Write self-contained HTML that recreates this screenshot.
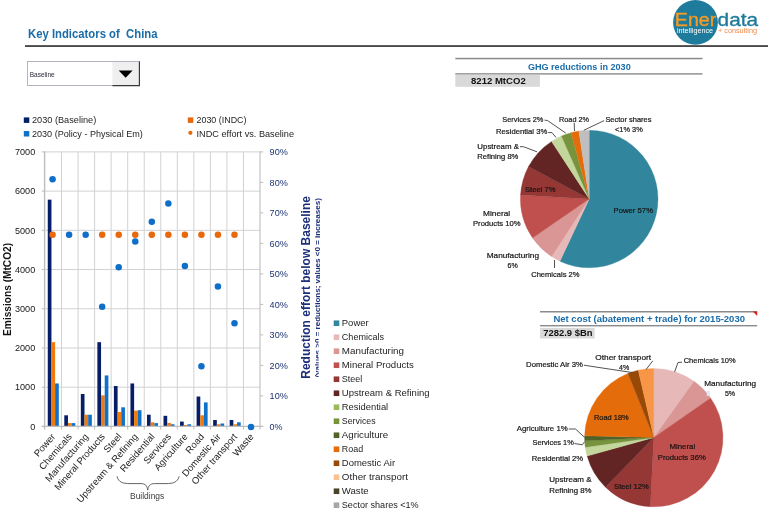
<!DOCTYPE html>
<html><head><meta charset="utf-8"><title>Key Indicators of China</title>
<style>html,body{margin:0;padding:0;background:#fff;overflow:hidden}svg{display:block;will-change:transform}text{font-family:"Liberation Sans",sans-serif}</style></head>
<body>
<svg width="768" height="512" viewBox="0 0 768 512" font-family="Liberation Sans, sans-serif">
<rect width="768" height="512" fill="#fff"/>
<text font-size="12" fill="#1b6ca8" font-weight="bold" textLength="129.50" lengthAdjust="spacingAndGlyphs" x="28.00" y="38.30" xml:space="preserve">Key Indicators of  China</text>
<rect x="25" y="45.3" width="743" height="1.5" fill="#1c1c1c"/>
<circle cx="695.5" cy="22.4" r="22.4" fill="#1f7b9b"/>
<text font-size="18.2" fill="#f59a23" textLength="41.50" lengthAdjust="spacingAndGlyphs" x="674.80" y="26.30" stroke="#f59a23" stroke-width="0.35">Ener</text>
<text font-size="18.2" fill="#1f7b9b" textLength="40.50" lengthAdjust="spacingAndGlyphs" x="717.60" y="26.30" stroke="#1f7b9b" stroke-width="0.35">data</text>
<text font-size="6.6" fill="#ffffff" textLength="36.00" lengthAdjust="spacingAndGlyphs" x="677.00" y="33.00" >intelligence</text>
<text font-size="6.6" fill="#f08a4b" textLength="39.00" lengthAdjust="spacingAndGlyphs" x="718.00" y="33.00" >+ consulting</text>
<rect x="27.5" y="61.5" width="112" height="24" fill="#fff" stroke="#b4b4c2" stroke-width="1"/>
<rect x="112.4" y="62" width="26.4" height="23.2" fill="#efefef"/>
<path d="M112.4 85.6 H139.4 V61.5" fill="none" stroke="#3a3a3a" stroke-width="1.2"/>
<path d="M118.7 70.6 H132.6 L125.65 77.8 Z" fill="#000"/>
<text font-size="6.6" fill="#2a2438" textLength="25.00" lengthAdjust="spacingAndGlyphs" x="29.70" y="76.50" >Baseline</text>
<line x1="45.0" y1="387.19" x2="260.0" y2="387.19" stroke="#d2d2d2" stroke-width="1"/>
<line x1="45.0" y1="347.97" x2="260.0" y2="347.97" stroke="#d2d2d2" stroke-width="1"/>
<line x1="45.0" y1="308.76" x2="260.0" y2="308.76" stroke="#d2d2d2" stroke-width="1"/>
<line x1="45.0" y1="269.54" x2="260.0" y2="269.54" stroke="#d2d2d2" stroke-width="1"/>
<line x1="45.0" y1="230.33" x2="260.0" y2="230.33" stroke="#d2d2d2" stroke-width="1"/>
<line x1="45.0" y1="191.11" x2="260.0" y2="191.11" stroke="#d2d2d2" stroke-width="1"/>
<line x1="45.0" y1="151.90" x2="260.0" y2="151.90" stroke="#d2d2d2" stroke-width="1"/>
<line x1="61.54" y1="151.90" x2="61.54" y2="426.40" stroke="#d2d2d2" stroke-width="1"/>
<line x1="78.08" y1="151.90" x2="78.08" y2="426.40" stroke="#d2d2d2" stroke-width="1"/>
<line x1="94.62" y1="151.90" x2="94.62" y2="426.40" stroke="#d2d2d2" stroke-width="1"/>
<line x1="111.15" y1="151.90" x2="111.15" y2="426.40" stroke="#d2d2d2" stroke-width="1"/>
<line x1="127.69" y1="151.90" x2="127.69" y2="426.40" stroke="#d2d2d2" stroke-width="1"/>
<line x1="144.23" y1="151.90" x2="144.23" y2="426.40" stroke="#d2d2d2" stroke-width="1"/>
<line x1="160.77" y1="151.90" x2="160.77" y2="426.40" stroke="#d2d2d2" stroke-width="1"/>
<line x1="177.31" y1="151.90" x2="177.31" y2="426.40" stroke="#d2d2d2" stroke-width="1"/>
<line x1="193.85" y1="151.90" x2="193.85" y2="426.40" stroke="#d2d2d2" stroke-width="1"/>
<line x1="210.38" y1="151.90" x2="210.38" y2="426.40" stroke="#d2d2d2" stroke-width="1"/>
<line x1="226.92" y1="151.90" x2="226.92" y2="426.40" stroke="#d2d2d2" stroke-width="1"/>
<line x1="243.46" y1="151.90" x2="243.46" y2="426.40" stroke="#d2d2d2" stroke-width="1"/>
<rect x="47.76" y="199.66" width="3.68" height="226.74" fill="#061e68"/>
<rect x="51.43" y="342.17" width="3.68" height="84.23" fill="#f07a0a"/>
<rect x="55.11" y="383.46" width="3.68" height="42.94" fill="#1071c9"/>
<rect x="64.29" y="415.30" width="3.68" height="11.10" fill="#061e68"/>
<rect x="67.97" y="423.11" width="3.68" height="3.29" fill="#f07a0a"/>
<rect x="71.65" y="423.11" width="3.68" height="3.29" fill="#1071c9"/>
<rect x="80.83" y="394.01" width="3.68" height="32.39" fill="#061e68"/>
<rect x="84.51" y="414.71" width="3.68" height="11.69" fill="#f07a0a"/>
<rect x="88.18" y="414.71" width="3.68" height="11.69" fill="#1071c9"/>
<rect x="97.37" y="342.17" width="3.68" height="84.23" fill="#061e68"/>
<rect x="101.05" y="395.38" width="3.68" height="31.02" fill="#f07a0a"/>
<rect x="104.72" y="375.42" width="3.68" height="50.98" fill="#1071c9"/>
<rect x="113.91" y="386.01" width="3.68" height="40.39" fill="#061e68"/>
<rect x="117.59" y="412.01" width="3.68" height="14.39" fill="#f07a0a"/>
<rect x="121.26" y="407.30" width="3.68" height="19.10" fill="#1071c9"/>
<rect x="130.45" y="383.46" width="3.68" height="42.94" fill="#061e68"/>
<rect x="134.12" y="410.60" width="3.68" height="15.80" fill="#f07a0a"/>
<rect x="137.80" y="410.20" width="3.68" height="16.20" fill="#1071c9"/>
<rect x="146.99" y="414.71" width="3.68" height="11.69" fill="#061e68"/>
<rect x="150.66" y="422.32" width="3.68" height="4.08" fill="#f07a0a"/>
<rect x="154.34" y="423.11" width="3.68" height="3.29" fill="#1071c9"/>
<rect x="163.53" y="415.81" width="3.68" height="10.59" fill="#061e68"/>
<rect x="167.20" y="422.95" width="3.68" height="3.45" fill="#f07a0a"/>
<rect x="170.88" y="424.28" width="3.68" height="2.12" fill="#1071c9"/>
<rect x="180.06" y="421.58" width="3.68" height="4.82" fill="#061e68"/>
<rect x="183.74" y="425.07" width="3.68" height="1.33" fill="#f07a0a"/>
<rect x="187.41" y="424.28" width="3.68" height="2.12" fill="#1071c9"/>
<rect x="196.60" y="396.52" width="3.68" height="29.88" fill="#061e68"/>
<rect x="200.28" y="415.30" width="3.68" height="11.10" fill="#f07a0a"/>
<rect x="203.95" y="402.40" width="3.68" height="24.00" fill="#1071c9"/>
<rect x="213.14" y="420.01" width="3.68" height="6.39" fill="#061e68"/>
<rect x="216.82" y="424.28" width="3.68" height="2.12" fill="#f07a0a"/>
<rect x="220.49" y="423.50" width="3.68" height="2.90" fill="#1071c9"/>
<rect x="229.68" y="420.01" width="3.68" height="6.39" fill="#061e68"/>
<rect x="233.35" y="424.28" width="3.68" height="2.12" fill="#f07a0a"/>
<rect x="237.03" y="422.32" width="3.68" height="4.08" fill="#1071c9"/>
<line x1="44.6" y1="151.40" x2="44.6" y2="429.60" stroke="#bdbdbd" stroke-width="1.4"/>
<line x1="260.0" y1="151.40" x2="260.0" y2="429.60" stroke="#bdbdbd" stroke-width="1.1"/>
<line x1="41.8" y1="426.40" x2="263.2" y2="426.40" stroke="#bdbdbd" stroke-width="1.2"/>
<line x1="41.8" y1="426.40" x2="45.0" y2="426.40" stroke="#bdbdbd" stroke-width="1"/>
<text font-size="9.1" fill="#161616" text-anchor="end" x="35.20" y="429.65" >0</text>
<line x1="41.8" y1="387.19" x2="45.0" y2="387.19" stroke="#bdbdbd" stroke-width="1"/>
<text font-size="9.1" fill="#161616" text-anchor="end" x="35.20" y="390.44" >1000</text>
<line x1="41.8" y1="347.97" x2="45.0" y2="347.97" stroke="#bdbdbd" stroke-width="1"/>
<text font-size="9.1" fill="#161616" text-anchor="end" x="35.20" y="351.22" >2000</text>
<line x1="41.8" y1="308.76" x2="45.0" y2="308.76" stroke="#bdbdbd" stroke-width="1"/>
<text font-size="9.1" fill="#161616" text-anchor="end" x="35.20" y="312.01" >3000</text>
<line x1="41.8" y1="269.54" x2="45.0" y2="269.54" stroke="#bdbdbd" stroke-width="1"/>
<text font-size="9.1" fill="#161616" text-anchor="end" x="35.20" y="272.79" >4000</text>
<line x1="41.8" y1="230.33" x2="45.0" y2="230.33" stroke="#bdbdbd" stroke-width="1"/>
<text font-size="9.1" fill="#161616" text-anchor="end" x="35.20" y="233.58" >5000</text>
<line x1="41.8" y1="191.11" x2="45.0" y2="191.11" stroke="#bdbdbd" stroke-width="1"/>
<text font-size="9.1" fill="#161616" text-anchor="end" x="35.20" y="194.36" >6000</text>
<line x1="41.8" y1="151.90" x2="45.0" y2="151.90" stroke="#bdbdbd" stroke-width="1"/>
<text font-size="9.1" fill="#161616" text-anchor="end" x="35.20" y="155.15" >7000</text>
<line x1="260.0" y1="426.40" x2="263.2" y2="426.40" stroke="#bdbdbd" stroke-width="1"/>
<text font-size="9.1" fill="#1c3475" textLength="13.00" lengthAdjust="spacingAndGlyphs" x="269.60" y="429.65" >0%</text>
<line x1="260.0" y1="395.90" x2="263.2" y2="395.90" stroke="#bdbdbd" stroke-width="1"/>
<text font-size="9.1" fill="#1c3475" textLength="18.20" lengthAdjust="spacingAndGlyphs" x="269.60" y="399.15" >10%</text>
<line x1="260.0" y1="365.40" x2="263.2" y2="365.40" stroke="#bdbdbd" stroke-width="1"/>
<text font-size="9.1" fill="#1c3475" textLength="18.20" lengthAdjust="spacingAndGlyphs" x="269.60" y="368.65" >20%</text>
<line x1="260.0" y1="334.90" x2="263.2" y2="334.90" stroke="#bdbdbd" stroke-width="1"/>
<text font-size="9.1" fill="#1c3475" textLength="18.20" lengthAdjust="spacingAndGlyphs" x="269.60" y="338.15" >30%</text>
<line x1="260.0" y1="304.40" x2="263.2" y2="304.40" stroke="#bdbdbd" stroke-width="1"/>
<text font-size="9.1" fill="#1c3475" textLength="18.20" lengthAdjust="spacingAndGlyphs" x="269.60" y="307.65" >40%</text>
<line x1="260.0" y1="273.90" x2="263.2" y2="273.90" stroke="#bdbdbd" stroke-width="1"/>
<text font-size="9.1" fill="#1c3475" textLength="18.20" lengthAdjust="spacingAndGlyphs" x="269.60" y="277.15" >50%</text>
<line x1="260.0" y1="243.40" x2="263.2" y2="243.40" stroke="#bdbdbd" stroke-width="1"/>
<text font-size="9.1" fill="#1c3475" textLength="18.20" lengthAdjust="spacingAndGlyphs" x="269.60" y="246.65" >60%</text>
<line x1="260.0" y1="212.90" x2="263.2" y2="212.90" stroke="#bdbdbd" stroke-width="1"/>
<text font-size="9.1" fill="#1c3475" textLength="18.20" lengthAdjust="spacingAndGlyphs" x="269.60" y="216.15" >70%</text>
<line x1="260.0" y1="182.40" x2="263.2" y2="182.40" stroke="#bdbdbd" stroke-width="1"/>
<text font-size="9.1" fill="#1c3475" textLength="18.20" lengthAdjust="spacingAndGlyphs" x="269.60" y="185.65" >80%</text>
<line x1="260.0" y1="151.90" x2="263.2" y2="151.90" stroke="#bdbdbd" stroke-width="1"/>
<text font-size="9.1" fill="#1c3475" textLength="18.20" lengthAdjust="spacingAndGlyphs" x="269.60" y="155.15" >90%</text>
<line x1="61.54" y1="426.40" x2="61.54" y2="429.60" stroke="#bdbdbd" stroke-width="1"/>
<line x1="78.08" y1="426.40" x2="78.08" y2="429.60" stroke="#bdbdbd" stroke-width="1"/>
<line x1="94.62" y1="426.40" x2="94.62" y2="429.60" stroke="#bdbdbd" stroke-width="1"/>
<line x1="111.15" y1="426.40" x2="111.15" y2="429.60" stroke="#bdbdbd" stroke-width="1"/>
<line x1="127.69" y1="426.40" x2="127.69" y2="429.60" stroke="#bdbdbd" stroke-width="1"/>
<line x1="144.23" y1="426.40" x2="144.23" y2="429.60" stroke="#bdbdbd" stroke-width="1"/>
<line x1="160.77" y1="426.40" x2="160.77" y2="429.60" stroke="#bdbdbd" stroke-width="1"/>
<line x1="177.31" y1="426.40" x2="177.31" y2="429.60" stroke="#bdbdbd" stroke-width="1"/>
<line x1="193.85" y1="426.40" x2="193.85" y2="429.60" stroke="#bdbdbd" stroke-width="1"/>
<line x1="210.38" y1="426.40" x2="210.38" y2="429.60" stroke="#bdbdbd" stroke-width="1"/>
<line x1="226.92" y1="426.40" x2="226.92" y2="429.60" stroke="#bdbdbd" stroke-width="1"/>
<line x1="243.46" y1="426.40" x2="243.46" y2="429.60" stroke="#bdbdbd" stroke-width="1"/>
<circle cx="52.57" cy="234.85" r="3.25" fill="#e8690b"/>
<circle cx="102.18" cy="234.85" r="3.25" fill="#e8690b"/>
<circle cx="118.72" cy="234.85" r="3.25" fill="#e8690b"/>
<circle cx="135.26" cy="234.85" r="3.25" fill="#e8690b"/>
<circle cx="151.80" cy="234.85" r="3.25" fill="#e8690b"/>
<circle cx="168.34" cy="234.85" r="3.25" fill="#e8690b"/>
<circle cx="184.88" cy="234.85" r="3.25" fill="#e8690b"/>
<circle cx="201.42" cy="234.85" r="3.25" fill="#e8690b"/>
<circle cx="217.95" cy="234.85" r="3.25" fill="#e8690b"/>
<circle cx="234.49" cy="234.85" r="3.25" fill="#e8690b"/>
<circle cx="52.57" cy="179.34" r="3.25" fill="#0f6fc8"/>
<circle cx="69.11" cy="234.85" r="3.25" fill="#0f6fc8"/>
<circle cx="85.65" cy="234.85" r="3.25" fill="#0f6fc8"/>
<circle cx="102.18" cy="306.83" r="3.25" fill="#0f6fc8"/>
<circle cx="118.72" cy="267.18" r="3.25" fill="#0f6fc8"/>
<circle cx="135.26" cy="241.56" r="3.25" fill="#0f6fc8"/>
<circle cx="151.80" cy="221.73" r="3.25" fill="#0f6fc8"/>
<circle cx="168.34" cy="203.43" r="3.25" fill="#0f6fc8"/>
<circle cx="184.88" cy="265.96" r="3.25" fill="#0f6fc8"/>
<circle cx="201.42" cy="366.31" r="3.25" fill="#0f6fc8"/>
<circle cx="217.95" cy="286.39" r="3.25" fill="#0f6fc8"/>
<circle cx="234.49" cy="323.30" r="3.25" fill="#0f6fc8"/>
<circle cx="251.03" cy="427.00" r="3.25" fill="#0f6fc8"/>
<text font-size="9.5" fill="#1e1e1e" text-anchor="end" transform="translate(55.87 437.00) rotate(-49)" >Power</text>
<text font-size="9.5" fill="#1e1e1e" text-anchor="end" transform="translate(72.41 437.00) rotate(-49)" >Chemicals</text>
<text font-size="9.5" fill="#1e1e1e" text-anchor="end" transform="translate(88.95 437.00) rotate(-49)" >Manufacturing</text>
<text font-size="9.5" fill="#1e1e1e" text-anchor="end" transform="translate(105.48 437.00) rotate(-49)" >Mineral Products</text>
<text font-size="9.5" fill="#1e1e1e" text-anchor="end" transform="translate(122.02 437.00) rotate(-49)" >Steel</text>
<text font-size="9.5" fill="#1e1e1e" text-anchor="end" transform="translate(138.56 437.00) rotate(-49)" >Upstream &amp; Refining</text>
<text font-size="9.5" fill="#1e1e1e" text-anchor="end" transform="translate(155.10 437.00) rotate(-49)" >Residential</text>
<text font-size="9.5" fill="#1e1e1e" text-anchor="end" transform="translate(171.64 437.00) rotate(-49)" >Services</text>
<text font-size="9.5" fill="#1e1e1e" text-anchor="end" transform="translate(188.18 437.00) rotate(-49)" >Agriculture</text>
<text font-size="9.5" fill="#1e1e1e" text-anchor="end" transform="translate(204.72 437.00) rotate(-49)" >Road</text>
<text font-size="9.5" fill="#1e1e1e" text-anchor="end" transform="translate(221.25 437.00) rotate(-49)" >Domestic Air</text>
<text font-size="9.5" fill="#1e1e1e" text-anchor="end" transform="translate(237.79 437.00) rotate(-49)" >Other transport</text>
<text font-size="9.5" fill="#1e1e1e" text-anchor="end" transform="translate(254.33 437.00) rotate(-49)" >Waste</text>
<path d="M117 476.3 C118.5 482.5 123 483.6 130 483.6 H141 C145.5 483.6 147.2 486 147.7 490.2 C148.2 486 150 483.6 154.5 483.6 H166 C173 483.6 177.5 482.5 179.2 476.3" fill="none" stroke="#555" stroke-width="0.9"/>
<text font-size="9.1" fill="#3a3a3a" textLength="34.30" lengthAdjust="spacingAndGlyphs" x="130.00" y="499.00" >Buildings</text>
<rect x="23.8" y="117.4" width="5.5" height="5.5" fill="#061e68"/>
<text font-size="9.1" fill="#1e1e1e" textLength="64.20" lengthAdjust="spacingAndGlyphs" x="32.00" y="123.30" >2030 (Baseline)</text>
<rect x="23.8" y="131" width="5.5" height="5.5" fill="#1071c9"/>
<text font-size="9.1" fill="#1e1e1e" textLength="110.80" lengthAdjust="spacingAndGlyphs" x="32.00" y="136.80" >2030 (Policy - Physical Em)</text>
<rect x="187.8" y="117.4" width="5.5" height="5.5" fill="#e8690b"/>
<text font-size="9.1" fill="#1e1e1e" textLength="50.00" lengthAdjust="spacingAndGlyphs" x="196.50" y="123.30" >2030 (INDC)</text>
<circle cx="190.4" cy="132.8" r="2.1" fill="#e8690b"/>
<text font-size="9.1" fill="#1e1e1e" textLength="97.50" lengthAdjust="spacingAndGlyphs" x="196.50" y="136.80" >INDC effort vs. Baseline</text>
<text font-size="10.1" fill="#111" font-weight="bold" text-anchor="middle" textLength="93.00" lengthAdjust="spacingAndGlyphs" transform="translate(11.30 289.40) rotate(-90)" >Emissions (MtCO2)</text>
<text font-size="12" fill="#1b2f78" font-weight="bold" text-anchor="middle" textLength="182.70" lengthAdjust="spacingAndGlyphs" transform="translate(309.50 287.40) rotate(-90)" >Reduction effort below Baseline</text>
<text font-size="7.6" fill="#1b2f78" font-weight="bold" text-anchor="middle" textLength="179.40" lengthAdjust="spacingAndGlyphs" transform="translate(320.30 287.90) rotate(-90)" >(values &gt;0 = reductions; values &lt;0 = increases)</text>
<rect x="318.6" y="332" width="12" height="50" fill="#fff"/>
<rect x="333.7" y="320.45" width="5.6" height="5.6" fill="#31859c"/>
<text font-size="9.3" fill="#1e1e1e" textLength="26.90" lengthAdjust="spacingAndGlyphs" x="341.80" y="326.45" >Power</text>
<rect x="333.7" y="334.45" width="5.6" height="5.6" fill="#e6b9b8"/>
<text font-size="9.3" fill="#1e1e1e" textLength="42.30" lengthAdjust="spacingAndGlyphs" x="341.80" y="340.45" >Chemicals</text>
<rect x="333.7" y="348.45" width="5.6" height="5.6" fill="#d99694"/>
<text font-size="9.3" fill="#1e1e1e" textLength="62.20" lengthAdjust="spacingAndGlyphs" x="341.80" y="354.45" >Manufacturing</text>
<rect x="333.7" y="362.45" width="5.6" height="5.6" fill="#c0504d"/>
<text font-size="9.3" fill="#1e1e1e" textLength="72.00" lengthAdjust="spacingAndGlyphs" x="341.80" y="368.45" >Mineral Products</text>
<rect x="333.7" y="376.45" width="5.6" height="5.6" fill="#953735"/>
<text font-size="9.3" fill="#1e1e1e" textLength="20.50" lengthAdjust="spacingAndGlyphs" x="341.80" y="382.45" >Steel</text>
<rect x="333.7" y="390.45" width="5.6" height="5.6" fill="#632523"/>
<text font-size="9.3" fill="#1e1e1e" textLength="87.80" lengthAdjust="spacingAndGlyphs" x="341.80" y="396.45" >Upstream &amp; Refining</text>
<rect x="333.7" y="404.45" width="5.6" height="5.6" fill="#9bbb59"/>
<text font-size="9.3" fill="#1e1e1e" textLength="46.40" lengthAdjust="spacingAndGlyphs" x="341.80" y="410.45" >Residential</text>
<rect x="333.7" y="418.45" width="5.6" height="5.6" fill="#77933c"/>
<text font-size="9.3" fill="#1e1e1e" textLength="33.80" lengthAdjust="spacingAndGlyphs" x="341.80" y="424.45" >Services</text>
<rect x="333.7" y="432.45" width="5.6" height="5.6" fill="#4f6228"/>
<text font-size="9.3" fill="#1e1e1e" textLength="46.40" lengthAdjust="spacingAndGlyphs" x="341.80" y="438.45" >Agriculture</text>
<rect x="333.7" y="446.45" width="5.6" height="5.6" fill="#e46c0a"/>
<text font-size="9.3" fill="#1e1e1e" textLength="21.30" lengthAdjust="spacingAndGlyphs" x="341.80" y="452.45" >Road</text>
<rect x="333.7" y="460.45" width="5.6" height="5.6" fill="#984807"/>
<text font-size="9.3" fill="#1e1e1e" textLength="53.30" lengthAdjust="spacingAndGlyphs" x="341.80" y="466.45" >Domestic Air</text>
<rect x="333.7" y="474.45" width="5.6" height="5.6" fill="#fac090"/>
<text font-size="9.3" fill="#1e1e1e" textLength="66.10" lengthAdjust="spacingAndGlyphs" x="341.80" y="480.45" >Other transport</text>
<rect x="333.7" y="488.45" width="5.6" height="5.6" fill="#494429"/>
<text font-size="9.3" fill="#1e1e1e" textLength="26.90" lengthAdjust="spacingAndGlyphs" x="341.80" y="494.45" >Waste</text>
<rect x="333.7" y="502.45" width="5.6" height="5.6" fill="#a6a6a6"/>
<text font-size="9.3" fill="#1e1e1e" textLength="76.90" lengthAdjust="spacingAndGlyphs" x="341.80" y="508.45" >Sector shares &lt;1%</text>
<rect x="455.3" y="57.8" width="247.2" height="1.5" fill="#8a8a8a"/>
<rect x="455.3" y="73.2" width="247.2" height="1.4" fill="#8a8a8a"/>
<text font-size="9.6" fill="#1b6ca8" font-weight="bold" textLength="102.80" lengthAdjust="spacingAndGlyphs" x="527.90" y="69.60" >GHG reductions in 2030</text>
<rect x="455.3" y="74.8" width="84.6" height="12" fill="#d9d9d9"/>
<text font-size="9.6" fill="#111" font-weight="bold" textLength="54.70" lengthAdjust="spacingAndGlyphs" x="471.00" y="84.20" >8212 MtCO2</text>
<path d="M589.2 199.0 L589.20 130.20 A68.8 68.8 0 1 1 559.91 261.25 Z" fill="#31859c" stroke="#31859c" stroke-width="0.3"/>
<path d="M589.2 199.0 L559.91 261.25 A68.8 68.8 0 0 1 551.61 256.62 Z" fill="#e6b9b8" stroke="#e6b9b8" stroke-width="0.3"/>
<path d="M589.2 199.0 L551.61 256.62 A68.8 68.8 0 0 1 532.54 238.03 Z" fill="#d99694" stroke="#d99694" stroke-width="0.3"/>
<path d="M589.2 199.0 L532.54 238.03 A68.8 68.8 0 0 1 520.51 195.11 Z" fill="#c0504d" stroke="#c0504d" stroke-width="0.3"/>
<path d="M589.2 199.0 L520.51 195.11 A68.8 68.8 0 0 1 528.50 166.62 Z" fill="#953735" stroke="#953735" stroke-width="0.3"/>
<path d="M589.2 199.0 L528.50 166.62 A68.8 68.8 0 0 1 551.61 141.38 Z" fill="#632523" stroke="#632523" stroke-width="0.3"/>
<path d="M589.2 199.0 L551.61 141.38 A68.8 68.8 0 0 1 561.48 136.03 Z" fill="#c3d69b" stroke="#c3d69b" stroke-width="0.3"/>
<path d="M589.2 199.0 L561.48 136.03 A68.8 68.8 0 0 1 571.05 132.64 Z" fill="#77933c" stroke="#77933c" stroke-width="0.3"/>
<path d="M589.2 199.0 L571.05 132.64 A68.8 68.8 0 0 1 578.86 130.98 Z" fill="#e46c0a" stroke="#e46c0a" stroke-width="0.3"/>
<path d="M589.2 199.0 L578.86 130.98 A68.8 68.8 0 0 1 589.20 130.20 Z" fill="#bfbfbf" stroke="#bfbfbf" stroke-width="0.3"/>
<path d="M544.5 120.1 L547.6 120.6 L565.8 133.1" fill="none" stroke="#404040" stroke-width="0.9"/>
<path d="M574.2 122.7 L574.5 131.0" fill="none" stroke="#404040" stroke-width="0.9"/>
<path d="M604.1 120.6 L583.8 130.3" fill="none" stroke="#404040" stroke-width="0.9"/>
<path d="M548.1 132.6 L552.0 132.6 L556.0 137.5" fill="none" stroke="#404040" stroke-width="0.9"/>
<path d="M520.0 146.7 L523.4 146.7 L537.2 151.9" fill="none" stroke="#404040" stroke-width="0.9"/>
<path d="M554.5 260.0 L554.5 268.0" fill="none" stroke="#404040" stroke-width="0.9"/>
<text font-size="8.05" fill="#141414" textLength="41.10" lengthAdjust="spacingAndGlyphs" x="502.30" y="121.75" stroke="#141414" stroke-width="0.2">Services 2%</text>
<text font-size="8.05" fill="#141414" textLength="30.00" lengthAdjust="spacingAndGlyphs" x="559.00" y="121.75" stroke="#141414" stroke-width="0.2">Road 2%</text>
<text font-size="8.05" fill="#141414" textLength="46.10" lengthAdjust="spacingAndGlyphs" x="605.40" y="121.75" stroke="#141414" stroke-width="0.2">Sector shares</text>
<text font-size="8.05" fill="#141414" textLength="27.70" lengthAdjust="spacingAndGlyphs" x="615.00" y="131.85" stroke="#141414" stroke-width="0.2">&lt;1% 3%</text>
<text font-size="8.05" fill="#141414" textLength="51.30" lengthAdjust="spacingAndGlyphs" x="496.00" y="134.45" stroke="#141414" stroke-width="0.2">Residential 3%</text>
<text font-size="8.05" fill="#141414" textLength="41.70" lengthAdjust="spacingAndGlyphs" x="477.30" y="148.80" stroke="#141414" stroke-width="0.2">Upstream &amp;</text>
<text font-size="8.05" fill="#141414" textLength="41.10" lengthAdjust="spacingAndGlyphs" x="477.30" y="159.25" stroke="#141414" stroke-width="0.2">Refining 8%</text>
<text font-size="8.05" fill="#141414" textLength="30.40" lengthAdjust="spacingAndGlyphs" x="525.00" y="192.35" stroke="#141414" stroke-width="0.2">Steel 7%</text>
<text font-size="8.05" fill="#141414" textLength="27.10" lengthAdjust="spacingAndGlyphs" x="483.10" y="215.75" stroke="#141414" stroke-width="0.2">Mineral</text>
<text font-size="8.05" fill="#141414" textLength="47.50" lengthAdjust="spacingAndGlyphs" x="473.00" y="226.15" stroke="#141414" stroke-width="0.2">Products 10%</text>
<text font-size="8.05" fill="#141414" textLength="52.30" lengthAdjust="spacingAndGlyphs" x="486.70" y="258.05" stroke="#141414" stroke-width="0.2">Manufacturing</text>
<text font-size="8.05" fill="#141414" textLength="10.20" lengthAdjust="spacingAndGlyphs" x="507.60" y="268.45" stroke="#141414" stroke-width="0.2">6%</text>
<text font-size="8.05" fill="#141414" textLength="48.30" lengthAdjust="spacingAndGlyphs" x="531.20" y="276.95" stroke="#141414" stroke-width="0.2">Chemicals 2%</text>
<text font-size="8.05" fill="#141414" textLength="39.40" lengthAdjust="spacingAndGlyphs" x="613.60" y="213.15" stroke="#141414" stroke-width="0.2">Power 57%</text>
<rect x="540.1" y="311" width="217.1" height="1.5" fill="#8a8a8a"/>
<rect x="540.1" y="325" width="217.1" height="1.4" fill="#8a8a8a"/>
<path d="M752.8 311.6 H757.2 V316 Z" fill="#e02020"/>
<text font-size="9.6" fill="#1b6ca8" font-weight="bold" textLength="191.60" lengthAdjust="spacingAndGlyphs" x="553.40" y="322.00" >Net cost (abatement + trade) for 2015-2030</text>
<rect x="540.1" y="327.9" width="54.5" height="10.6" fill="#d9d9d9"/>
<text font-size="9.6" fill="#111" font-weight="bold" textLength="49.20" lengthAdjust="spacingAndGlyphs" x="543.30" y="336.40" >7282.9 $Bn</text>
<path d="M653.8 437.6 L653.80 368.40 A69.2 69.2 0 0 1 694.12 381.36 Z" fill="#e6b9b8" stroke="#e6b9b8" stroke-width="0.3"/>
<path d="M653.8 437.6 L694.12 381.36 A69.2 69.2 0 0 1 710.54 397.99 Z" fill="#d99694" stroke="#d99694" stroke-width="0.3"/>
<path d="M653.8 437.6 L710.54 397.99 A69.2 69.2 0 0 1 650.32 506.71 Z" fill="#c0504d" stroke="#c0504d" stroke-width="0.3"/>
<path d="M653.8 437.6 L650.32 506.71 A69.2 69.2 0 0 1 605.49 487.14 Z" fill="#953735" stroke="#953735" stroke-width="0.3"/>
<path d="M653.8 437.6 L605.49 487.14 A69.2 69.2 0 0 1 587.11 456.07 Z" fill="#632523" stroke="#632523" stroke-width="0.3"/>
<path d="M653.8 437.6 L587.11 456.07 A69.2 69.2 0 0 1 585.26 447.14 Z" fill="#c3d69b" stroke="#c3d69b" stroke-width="0.3"/>
<path d="M653.8 437.6 L585.26 447.14 A69.2 69.2 0 0 1 584.68 440.86 Z" fill="#77933c" stroke="#77933c" stroke-width="0.3"/>
<path d="M653.8 437.6 L584.68 440.86 A69.2 69.2 0 0 1 584.62 435.86 Z" fill="#4f6228" stroke="#4f6228" stroke-width="0.3"/>
<path d="M653.8 437.6 L584.62 435.86 A69.2 69.2 0 0 1 627.92 373.42 Z" fill="#e46c0a" stroke="#e46c0a" stroke-width="0.3"/>
<path d="M653.8 437.6 L627.92 373.42 A69.2 69.2 0 0 1 638.28 370.16 Z" fill="#984807" stroke="#984807" stroke-width="0.3"/>
<path d="M653.8 437.6 L638.28 370.16 A69.2 69.2 0 0 1 653.80 368.40 Z" fill="#f79646" stroke="#f79646" stroke-width="0.3"/>
<rect x="706.9" y="391.2" width="2.8" height="4.6" fill="#e4ecf7" stroke="#c9d6ea" stroke-width="0.4"/>
<path d="M583.9 365.2 L632.6 372.6" fill="none" stroke="#404040" stroke-width="0.9"/>
<path d="M652.8 360.8 L646.0 369.6" fill="none" stroke="#404040" stroke-width="0.9"/>
<path d="M682.0 362.2 L678.0 362.5 L674.6 371.9" fill="none" stroke="#404040" stroke-width="0.9"/>
<path d="M568.8 429.0 L575.5 429.0 L584.6 437.4" fill="none" stroke="#404040" stroke-width="0.9"/>
<path d="M574.5 443.5 L582.2 444.8 L584.6 441.8" fill="none" stroke="#404040" stroke-width="0.9"/>
<text font-size="8.05" fill="#141414" textLength="56.80" lengthAdjust="spacingAndGlyphs" x="526.10" y="366.75" stroke="#141414" stroke-width="0.2">Domestic Air 3%</text>
<text font-size="8.05" fill="#141414" textLength="55.80" lengthAdjust="spacingAndGlyphs" x="595.30" y="359.75" stroke="#141414" stroke-width="0.2">Other transport</text>
<text font-size="8.05" fill="#141414" textLength="10.20" lengthAdjust="spacingAndGlyphs" x="619.10" y="370.45" stroke="#141414" stroke-width="0.2">4%</text>
<text font-size="8.05" fill="#141414" textLength="52.00" lengthAdjust="spacingAndGlyphs" x="683.70" y="363.15" stroke="#141414" stroke-width="0.2">Chemicals 10%</text>
<text font-size="8.05" fill="#141414" textLength="52.00" lengthAdjust="spacingAndGlyphs" x="704.20" y="385.65" stroke="#141414" stroke-width="0.2">Manufacturing</text>
<text font-size="8.05" fill="#141414" textLength="10.20" lengthAdjust="spacingAndGlyphs" x="724.90" y="395.65" stroke="#141414" stroke-width="0.2">5%</text>
<text font-size="8.05" fill="#141414" textLength="34.60" lengthAdjust="spacingAndGlyphs" x="594.00" y="420.25" stroke="#141414" stroke-width="0.2">Road 18%</text>
<text font-size="8.05" fill="#141414" textLength="51.10" lengthAdjust="spacingAndGlyphs" x="516.70" y="430.95" stroke="#141414" stroke-width="0.2">Agriculture 1%</text>
<text font-size="8.05" fill="#141414" textLength="41.30" lengthAdjust="spacingAndGlyphs" x="532.50" y="445.45" stroke="#141414" stroke-width="0.2">Services 1%</text>
<text font-size="8.05" fill="#141414" textLength="51.40" lengthAdjust="spacingAndGlyphs" x="531.80" y="460.55" stroke="#141414" stroke-width="0.2">Residential 2%</text>
<text font-size="8.05" fill="#141414" textLength="42.30" lengthAdjust="spacingAndGlyphs" x="549.30" y="481.65" stroke="#141414" stroke-width="0.2">Upstream &amp;</text>
<text font-size="8.05" fill="#141414" textLength="42.30" lengthAdjust="spacingAndGlyphs" x="549.30" y="492.75" stroke="#141414" stroke-width="0.2">Refining 8%</text>
<text font-size="8.05" fill="#141414" textLength="34.60" lengthAdjust="spacingAndGlyphs" x="614.10" y="489.45" stroke="#141414" stroke-width="0.2">Steel 12%</text>
<text font-size="8.05" fill="#141414" textLength="25.80" lengthAdjust="spacingAndGlyphs" x="669.40" y="449.05" stroke="#141414" stroke-width="0.2">Mineral</text>
<text font-size="8.05" fill="#141414" textLength="48.00" lengthAdjust="spacingAndGlyphs" x="657.80" y="459.85" stroke="#141414" stroke-width="0.2">Products 36%</text>
</svg>
</body></html>
